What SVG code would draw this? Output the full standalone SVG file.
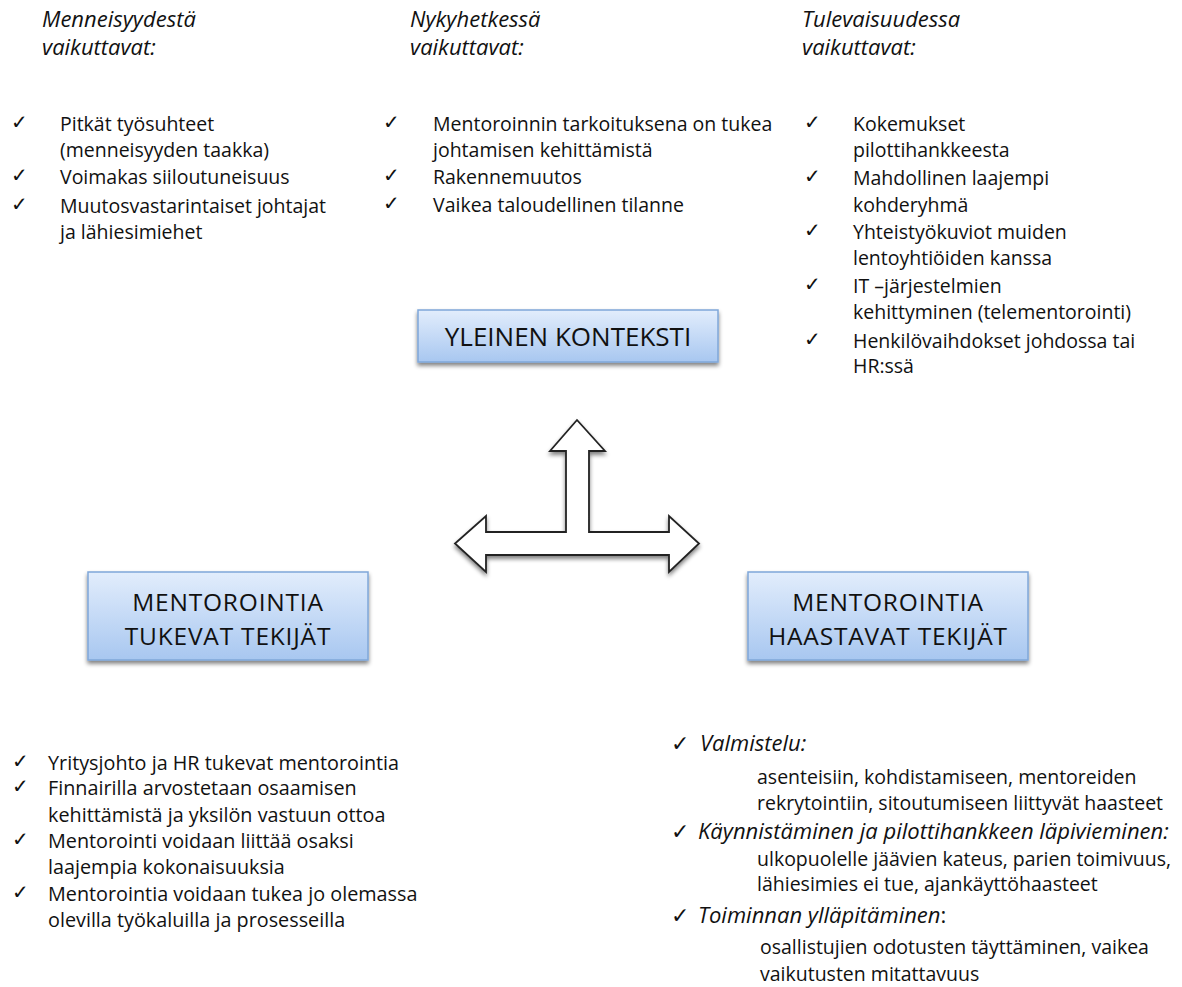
<svg xmlns="http://www.w3.org/2000/svg" width="1182" height="987" viewBox="0 0 1182 987">
<style>
text{font-family:"Open Sans","Liberation Sans",sans-serif;fill:#111}
.h{font-size:22px;font-style:italic}
.t{font-size:19.5px}
.b{font-size:19.8px}
.ck{font-family:"DejaVu Sans",sans-serif;font-size:20px}
.ck2{font-family:"DejaVu Sans",sans-serif;font-size:22px}
.i{font-size:22px;font-style:italic}
.bx{font-size:26px;text-anchor:middle}
.bx2{font-size:24.5px;letter-spacing:0.8px;text-anchor:middle}
.box{fill:url(#g);stroke:#7fa7d9;stroke-width:1.5;filter:url(#sh)}
</style>
<defs>
<linearGradient id="g" x1="0" y1="0" x2="0" y2="1">
<stop offset="0" stop-color="#e2edfc"/>
<stop offset="1" stop-color="#a8c7f0"/>
</linearGradient>
<filter id="sh" x="-10%" y="-20%" width="120%" height="150%">
<feGaussianBlur in="SourceAlpha" stdDeviation="2"/>
<feOffset dx="0" dy="3" result="b"/>
<feComponentTransfer><feFuncA type="linear" slope="0.5"/></feComponentTransfer>
<feMerge><feMergeNode/><feMergeNode in="SourceGraphic"/></feMerge>
</filter>
</defs>
<rect width="1182" height="987" fill="#fff"/>

<g id="past">
<text class="h" x="42" y="27">Menneisyydestä</text>
<text class="h" x="42" y="55">vaikuttavat:</text>
<text class="ck" x="11" y="129">✓</text>
<text class="t" x="60" y="131">Pitkät työsuhteet</text>
<text class="t" x="60" y="157">(menneisyyden taakka)</text>
<text class="ck" x="11" y="182">✓</text>
<text class="t" x="60" y="184">Voimakas siiloutuneisuus</text>
<text class="ck" x="11" y="211">✓</text>
<text class="t" x="60" y="213">Muutosvastarintaiset johtajat</text>
<text class="t" x="60" y="239">ja lähiesimiehet</text>
</g>

<g id="present">
<text class="h" x="410" y="27">Nykyhetkessä</text>
<text class="h" x="410" y="55">vaikuttavat:</text>
<text class="ck" x="383" y="129">✓</text>
<text class="t" x="433" y="131">Mentoroinnin tarkoituksena on tukea</text>
<text class="t" x="433" y="157">johtamisen kehittämistä</text>
<text class="ck" x="383" y="182">✓</text>
<text class="t" x="433" y="184">Rakennemuutos</text>
<text class="ck" x="383" y="210">✓</text>
<text class="t" x="433" y="212">Vaikea taloudellinen tilanne</text>
</g>

<g id="future">
<text class="h" x="802" y="27">Tulevaisuudessa</text>
<text class="h" x="802" y="55">vaikuttavat:</text>
<text class="ck" x="804" y="129">✓</text>
<text class="t" x="853" y="131">Kokemukset</text>
<text class="t" x="853" y="157">pilottihankkeesta</text>
<text class="ck" x="804" y="183">✓</text>
<text class="t" x="853" y="185">Mahdollinen laajempi</text>
<text class="t" x="853" y="212">kohderyhmä</text>
<text class="ck" x="804" y="237">✓</text>
<text class="t" x="853" y="239">Yhteistyökuviot muiden</text>
<text class="t" x="853" y="265">lentoyhtiöiden kanssa</text>
<text class="ck" x="804" y="291">✓</text>
<text class="t" x="853" y="293">IT –järjestelmien</text>
<text class="t" x="853" y="319">kehittyminen (telementorointi)</text>
<text class="ck" x="804" y="346">✓</text>
<text class="t" x="853" y="348">Henkilövaihdokset johdossa tai</text>
<text class="t" x="853" y="373">HR:ssä</text>
</g>

<g id="yleinen">
<rect class="box" x="418" y="310" width="300" height="52"/>
<text class="bx" x="568" y="346">YLEINEN KONTEKSTI</text>
</g>

<g id="tukevat">
<rect class="box" x="88" y="572" width="280" height="88"/>
<text class="bx2" x="228" y="611">MENTOROINTIA</text>
<text class="bx2" x="228" y="645">TUKEVAT TEKIJÄT</text>
</g>

<g id="haastavat">
<rect class="box" x="748" y="572" width="280" height="88"/>
<text class="bx2" x="888" y="611">MENTOROINTIA</text>
<text class="bx2" x="888" y="645">HAASTAVAT TEKIJÄT</text>
</g>

<g id="connectors">
<path d="M577,420 L605,451 L589,451 L589,532 L669,532 L669,516 L699,543.5 L669,572 L669,555 L486,555 L486,572 L455,543.5 L486,516 L486,532 L566,532 L566,451 L550,451 Z" fill="#fff" stroke="#222" stroke-width="1.8" stroke-linejoin="miter" filter="url(#sh)"/>
</g>

<g id="tukevat-list">
<text class="ck" x="12" y="768">✓</text>
<text class="b" x="48" y="770">Yritysjohto ja HR tukevat mentorointia</text>
<text class="ck" x="12" y="793">✓</text>
<text class="b" x="48" y="795">Finnairilla arvostetaan osaamisen</text>
<text class="b" x="48" y="822">kehittämistä ja yksilön vastuun ottoa</text>
<text class="ck" x="12" y="846">✓</text>
<text class="b" x="48" y="848">Mentorointi voidaan liittää osaksi</text>
<text class="b" x="48" y="874">laajempia  kokonaisuuksia</text>
<text class="ck" x="12" y="899">✓</text>
<text class="b" x="48" y="901">Mentorointia voidaan tukea jo olemassa</text>
<text class="b" x="48" y="927">olevilla työkaluilla ja prosesseilla</text>
</g>

<g id="haastavat-list">
<text class="ck2" x="671" y="751">✓</text>
<text class="i" x="700" y="751">Valmistelu:</text>
<text class="t" x="757" y="784">asenteisiin, kohdistamiseen, mentoreiden</text>
<text class="t" x="757" y="810">rekrytointiin,  sitoutumiseen liittyvät haasteet</text>
<text class="ck2" x="671" y="839">✓</text>
<text class="i" x="698" y="839">Käynnistäminen ja pilottihankkeen läpivieminen:</text>
<text class="t" x="757" y="866">ulkopuolelle jäävien kateus, parien toimivuus,</text>
<text class="t" x="757" y="891">lähiesimies ei tue, ajankäyttöhaasteet</text>
<text class="ck2" x="671" y="923">✓</text>
<text class="i" x="698" y="923">Toiminnan ylläpitäminen<tspan font-style="normal">:</tspan></text>
<text class="t" x="760" y="954">osallistujien odotusten täyttäminen, vaikea</text>
<text class="t" x="760" y="981">vaikutusten mitattavuus</text>
</g>
</svg>
